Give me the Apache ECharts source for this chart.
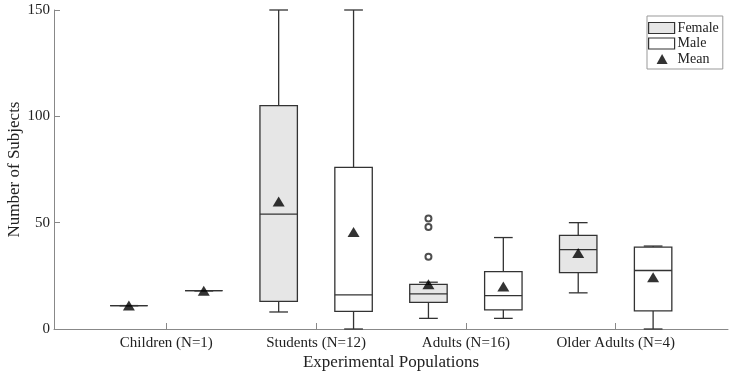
<!DOCTYPE html>
<html>
<head>
<meta charset="utf-8">
<script src="https://cdn.jsdelivr.net/npm/echarts@6/dist/echarts.min.js"></script>
<style>
  html, body { margin: 0; padding: 0; background: #fff; }
  #main { width: 734px; height: 378px; }
</style>
</head>
<body>
<div id="main"></div>
<script>
// categories
const groups = ['Children (N=1)', 'Students (N=12)', 'Adults (N=16)', 'Older Adults (N=4)'];
const tickValues = [1, 2, 3, 4];
const yTicks = [0, 50, 100, 150];

// box stats: [min, q1, median, q3, max]
const femaleStats = [
  [11, 11, 11, 11, 11],
  [8, 13, 54, 105, 150],
  [5, 12.5, 16.5, 21, 22],
  [17, 26.5, 37.3, 44, 50]
];
const maleStats = [
  [18, 18, 18, 18, 18],
  [0, 8.3, 16, 76, 150],
  [5, 9, 15.7, 27, 43],
  [0, 8.5, 27.5, 38.5, 39]
];
const femaleMean = [11, 60, 21, 35.7];
const maleMean = [18, 45.6, 20, 24.3];
// outliers: [group index, value]
const femaleOutliers = [[2, 34], [2, 48], [2, 52]];

const offset = 0.25;
const FONT = 'Liberation Serif';
const STROKE = '#333';
// triangle inside a 26x11 box so the legend does not stretch it
const legendTriangle = 'path://M0,0 L0,0 M26,11 L26,11 M13.5,0.5 L19,10.5 L8,10.5 Z';

const chart = echarts.init(document.getElementById('main'));

function boxData(stats, dx) {
  return stats.map((s, i) => [tickValues[i] + dx].concat(s));
}

function renderBox(params, api) {
  const x = api.value(0);
  const half = api.size([0.125, 0])[0];
  const cap = api.size([0.0625, 0])[0];
  const pMin = api.coord([x, api.value(1)]);
  const pQ1 = api.coord([x, api.value(2)]);
  const pMed = api.coord([x, api.value(3)]);
  const pQ3 = api.coord([x, api.value(4)]);
  const pMax = api.coord([x, api.value(5)]);
  const style = { stroke: STROKE, lineWidth: 1.3, fill: null };
  const cx = pMin[0];
  return {
    type: 'group',
    children: [
      { type: 'line', shape: { x1: cx, y1: pMax[1], x2: cx, y2: pQ3[1] }, style: style },
      { type: 'line', shape: { x1: cx, y1: pQ1[1], x2: cx, y2: pMin[1] }, style: style },
      { type: 'line', shape: { x1: cx - cap, y1: pMax[1], x2: cx + cap, y2: pMax[1] }, style: style },
      { type: 'line', shape: { x1: cx - cap, y1: pMin[1], x2: cx + cap, y2: pMin[1] }, style: style },
      { type: 'rect', shape: { x: cx - half, y: pQ3[1], width: half * 2, height: pQ1[1] - pQ3[1] },
        style: { stroke: STROKE, lineWidth: 1.3, fill: api.visual('color') } },
      { type: 'line', shape: { x1: cx - half, y1: pMed[1], x2: cx + half, y2: pMed[1] }, style: style }
    ]
  };
}

const option = {
  backgroundColor: '#fff',
  animation: false,
  grid: { left: 54, right: 6, top: 10, bottom: 49, containLabel: false, outerBoundsMode: 'none' },
  legend: {
    orient: 'vertical',
    left: 647,
    top: 16,
    padding: [5, 4, 3, 1],
    itemWidth: 26,
    itemHeight: 11,
    itemGap: 1.5,
    backgroundColor: '#fff',
    borderColor: '#999',
    borderWidth: 1,
    selectedMode: false,
    textStyle: { fontFamily: FONT, fontSize: 14, color: '#222', padding: [0, 0, 0, -2] },
    data: [
      { name: 'Female', icon: 'rect', itemStyle: { color: '#e6e6e6', borderColor: STROKE, borderWidth: 1.2 } },
      { name: 'Male', icon: 'rect', itemStyle: { color: '#fff', borderColor: STROKE, borderWidth: 1.2 } },
      { name: 'Mean', icon: legendTriangle, itemStyle: { color: '#000', borderWidth: 0 } }
    ]
  },
  xAxis: {
    type: 'value',
    min: 0.25,
    max: 4.75,
    name: 'Experimental Populations',
    nameLocation: 'middle',
    nameGap: 25,
    nameMoveOverlap: false,
    nameTextStyle: { fontFamily: FONT, fontSize: 17, color: '#222' },
    splitLine: { show: false },
    axisLine: { show: true, lineStyle: { color: '#888' } },
    axisTick: { show: true, inside: true, length: 6, customValues: tickValues, lineStyle: { color: '#888' } },
    axisLabel: {
      customValues: tickValues,
      margin: 7,
      fontFamily: FONT, fontSize: 15, color: '#222',
      formatter: v => groups[Math.round(v) - 1] || ''
    }
  },
  yAxis: {
    type: 'value',
    min: yTicks[0],
    max: yTicks[yTicks.length - 1],
    interval: 50,
    name: 'Number of Subjects',
    nameLocation: 'middle',
    nameGap: 31,
    nameMoveOverlap: false,
    nameTextStyle: { fontFamily: FONT, fontSize: 17, color: '#222' },
    splitLine: { show: false },
    axisLine: { show: true, lineStyle: { color: '#888' } },
    axisTick: { show: true, inside: true, length: 6, lineStyle: { color: '#888' } },
    axisLabel: { margin: 4, fontFamily: FONT, fontSize: 15, color: '#222' }
  },
  series: [
    {
      name: 'Female',
      type: 'custom',
      renderItem: renderBox,
      itemStyle: { color: '#e6e6e6', borderColor: STROKE },
      encode: { x: 0, y: [1, 2, 3, 4, 5] },
      data: boxData(femaleStats, -offset),
      z: 2
    },
    {
      name: 'Male',
      type: 'custom',
      renderItem: renderBox,
      itemStyle: { color: '#fff', borderColor: STROKE },
      encode: { x: 0, y: [1, 2, 3, 4, 5] },
      data: boxData(maleStats, offset),
      z: 2
    },
    {
      name: 'Outliers',
      type: 'scatter',
      symbol: 'emptyCircle',
      symbolSize: 6,
      itemStyle: { color: '#222', borderWidth: 1 },
      data: femaleOutliers.map(o => [tickValues[o[0]] - offset, o[1]]),
      z: 3
    },
    {
      name: 'Mean',
      type: 'scatter',
      symbol: 'triangle',
      symbolSize: [12, 10],
      itemStyle: { color: '#000' },
      data: femaleMean.map((m, i) => [tickValues[i] - offset, m])
        .concat(maleMean.map((m, i) => [tickValues[i] + offset, m])),
      z: 4
    }
  ]
};

chart.setOption(option);
</script>
</body>
</html>
